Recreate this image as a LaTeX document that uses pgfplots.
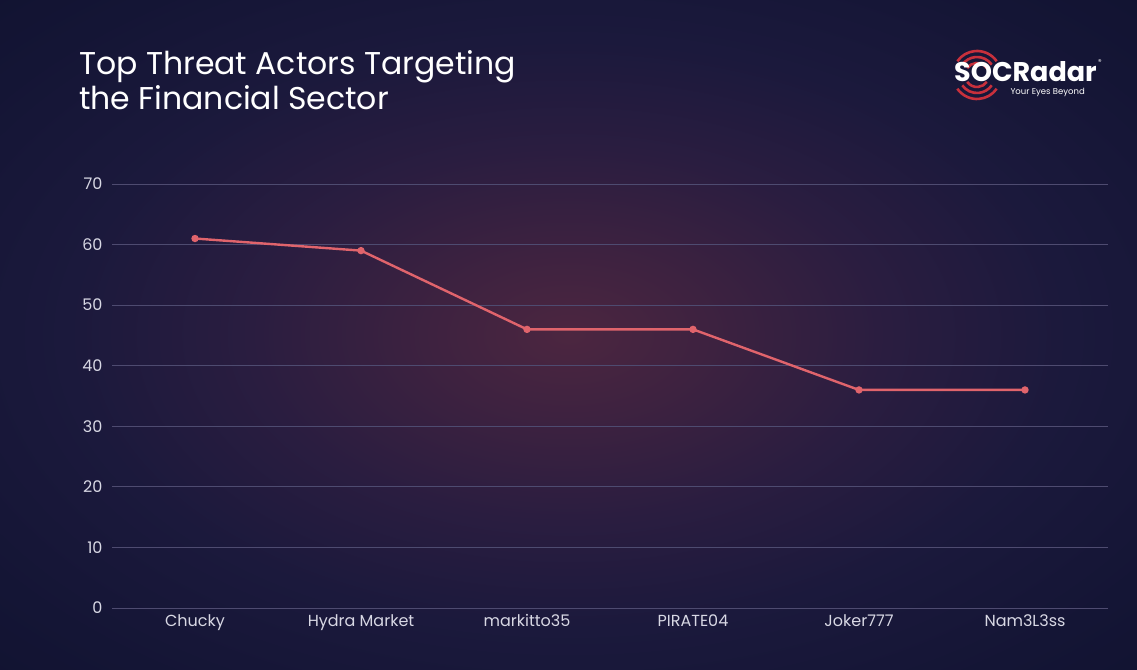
\documentclass[border=0pt]{standalone}
\usepackage{fontspec}
\setmainfont{Poppins}
\usepackage{pgfplots}
\pgfplotsset{compat=1.18}
\definecolor{bg0}{HTML}{4C2640}
\definecolor{bg1}{HTML}{3E2240}
\definecolor{bg2}{HTML}{2A1D40}
\definecolor{bg3}{HTML}{1B193C}
\definecolor{bg4}{HTML}{141535}
\definecolor{bg5}{HTML}{0F112D}
\definecolor{linec}{HTML}{E0646C}
\definecolor{gridc}{HTML}{4E4B70}
\definecolor{tickc}{HTML}{D8D8E4}
\definecolor{logored}{HTML}{C8303C}
\pgfdeclareradialshading{glow}{\pgfpoint{0bp}{0bp}}{color(0bp)=(bg0); color(6bp)=(bg1); color(14bp)=(bg2); color(22bp)=(bg3); color(31bp)=(bg4); color(42bp)=(bg5); color(75bp)=(bg5)}
\begin{document}
\begin{tikzpicture}[x=1pt,y=1pt]
\shade[shading=glow] (0,0) rectangle (1137,669);
% title
\node[anchor=base west, text=white, font=\fontsize{31.5}{38}\selectfont, inner sep=0pt] at (79,594) {Top Threat Actors Targeting};
\node[anchor=base west, text=white, font=\fontsize{31.5}{38}\selectfont, inner sep=0pt] at (79,559) {the Financial Sector};
% logo
\begin{scope}[logored, line width=2.6pt]
\foreach \r in {12,18,24} {
  \draw (977,594) ++(35:\r) arc (35:145:\r);
  \draw (977,594) ++(215:\r) arc (215:325:\r);
}
\end{scope}
\node[anchor=base west, text=white, font=\fontsize{27}{30}\selectfont\bfseries, inner sep=0pt] at (954,587) {SOCRadar};
\node[anchor=base east, text=white, font=\fontsize{8.5}{10}\selectfont, inner sep=0pt] at (1085,574) {Your Eyes Beyond};
\node[anchor=center, text=white!80, font=\fontsize{7}{8}\selectfont, inner sep=0pt] at (1100,607) {®};
\begin{axis}[
  at={(112pt,61pt)}, anchor=south west, scale only axis,
  width=996pt, height=424pt,
  xmin=-0.5, xmax=5.5, ymin=0, ymax=70,
  ytick={0,10,...,70},
  xtick=data,
  xticklabels={Chucky,Hydra Market,markitto35,PIRATE04,Joker777,Nam3L3ss},
  axis line style={draw=none},
  ymajorgrids, grid style={gridc, line width=0.9pt},
  major tick length=0pt,
  tick label style={font=\fontsize{16}{18}\selectfont, text=tickc},
  yticklabel style={xshift=-6pt},
  xticklabel style={yshift=-3pt},
  /pgf/number format/assume math mode=true,
  clip=false,
]
\addplot[linec, line width=2.4pt, mark=*, mark size=2.4pt, mark options={fill=linec}]
  coordinates {(0,61)(1,59)(2,46)(3,46)(4,36)(5,36)};
\end{axis}
\end{tikzpicture}
\end{document}
